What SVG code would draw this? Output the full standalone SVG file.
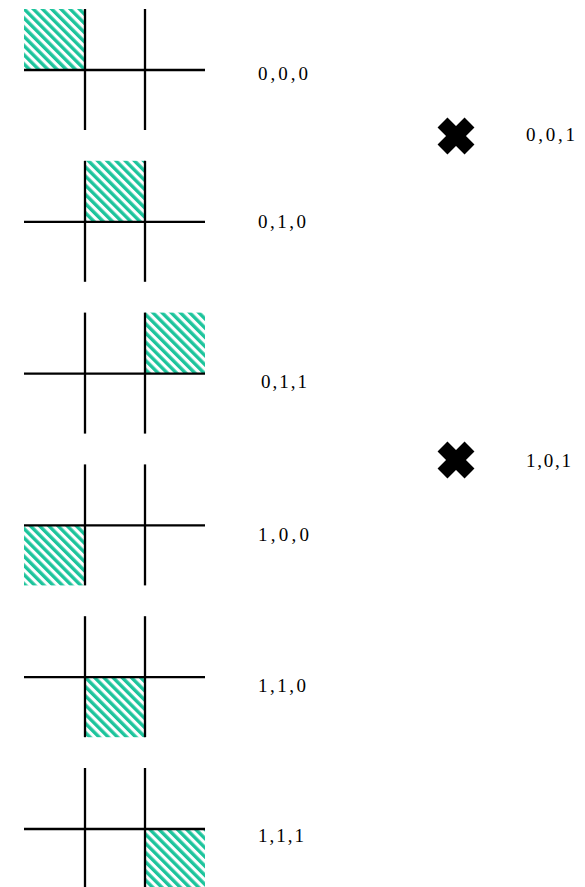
<svg xmlns="http://www.w3.org/2000/svg" width="585" height="887" viewBox="0 0 585 887">
<defs>
<pattern id="hatch" patternUnits="userSpaceOnUse" width="6.5" height="6.5" patternTransform="rotate(-45)">
<rect width="6.5" height="6.5" fill="#ffffff"/>
<rect width="3.4" height="6.5" fill="#1dc49c"/>
</pattern>
</defs>
<style>
.g line{stroke:#000;stroke-width:2.3;fill:none}
.sq{fill:url(#hatch);stroke:none}
.lbl{font-family:"Liberation Serif","Times New Roman",serif;font-size:19px;fill:#000}
.x line{stroke:#000;stroke-width:14;stroke-linecap:butt}
</style>
<rect width="585" height="887" fill="#fff"/>
<g id="panel-000" class="g" transform="translate(0,70)">
<rect class="sq" x="24" y="-61" width="61" height="61"/>
<line x1="85" y1="-61" x2="85" y2="60"/><line x1="145" y1="-61" x2="145" y2="60"/><line x1="24" y1="0" x2="205" y2="0"/>
</g>
<g id="panel-010" class="g" transform="translate(0,221.8)">
<rect class="sq" x="85" y="-61" width="60" height="61"/>
<line x1="85" y1="-61" x2="85" y2="60"/><line x1="145" y1="-61" x2="145" y2="60"/><line x1="24" y1="0" x2="205" y2="0"/>
</g>
<g id="panel-011" class="g" transform="translate(0,373.6)">
<rect class="sq" x="145" y="-61" width="60" height="61"/>
<line x1="85" y1="-61" x2="85" y2="60"/><line x1="145" y1="-61" x2="145" y2="60"/><line x1="24" y1="0" x2="205" y2="0"/>
</g>
<g id="panel-100" class="g" transform="translate(0,525.4)">
<rect class="sq" x="24" y="0" width="61" height="60"/>
<line x1="85" y1="-61" x2="85" y2="60"/><line x1="145" y1="-61" x2="145" y2="60"/><line x1="24" y1="0" x2="205" y2="0"/>
</g>
<g id="panel-110" class="g" transform="translate(0,677.2)">
<rect class="sq" x="85" y="0" width="60" height="60"/>
<line x1="85" y1="-61" x2="85" y2="60"/><line x1="145" y1="-61" x2="145" y2="60"/><line x1="24" y1="0" x2="205" y2="0"/>
</g>
<g id="panel-111" class="g" transform="translate(0,829)">
<rect class="sq" x="145" y="0" width="60" height="60"/>
<line x1="85" y1="-61" x2="85" y2="60"/><line x1="145" y1="-61" x2="145" y2="60"/><line x1="24" y1="0" x2="205" y2="0"/>
</g>
<g id="labels">
<text class="lbl" x="258" y="80" textLength="50">0,0,0</text>
<text class="lbl" x="258" y="228" textLength="48">0,1,0</text>
<text class="lbl" x="261" y="388" textLength="46">0,1,1</text>
<text class="lbl" x="258" y="541" textLength="51">1,0,0</text>
<text class="lbl" x="258" y="692" textLength="48">1,1,0</text>
<text class="lbl" x="258" y="842" textLength="46">1,1,1</text>
</g>
<g id="invalid-001" class="x">
<line x1="442.5" y1="122.5" x2="469.5" y2="149.5"/>
<line x1="442.5" y1="149.5" x2="469.5" y2="122.5"/>
<text class="lbl" x="526" y="141" textLength="49">0,0,1</text>
</g>
<g id="invalid-101" class="x">
<line x1="442.5" y1="446.5" x2="469.5" y2="473.5"/>
<line x1="442.5" y1="473.5" x2="469.5" y2="446.5"/>
<text class="lbl" x="526" y="467" textLength="45">1,0,1</text>
</g>
</svg>
